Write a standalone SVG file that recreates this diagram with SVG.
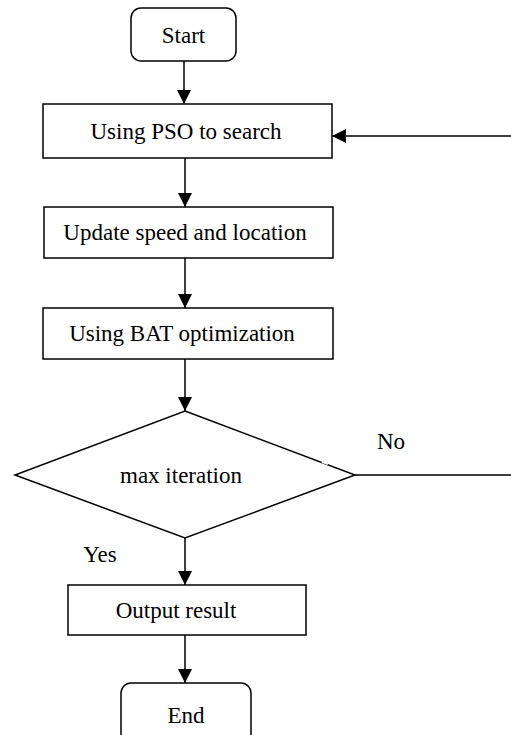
<svg xmlns="http://www.w3.org/2000/svg" width="511" height="735" viewBox="0 0 511 735">
<defs>
<marker id="ah" markerWidth="14" markerHeight="14" refX="14" refY="7" orient="auto" markerUnits="userSpaceOnUse">
<path d="M0,0 L14,7 L0,14 Z" fill="#000"/>
</marker>
<style>
.b{fill:#fff;stroke:#000;stroke-width:1.5}
.t{font-family:'Liberation Serif','DejaVu Serif',serif;font-size:23px;fill:#000;text-anchor:middle}
.c{fill:none;stroke:#000;stroke-width:1.5}
</style>
</defs>
<rect width="511" height="735" fill="#fff"/>
<g id="start"><rect class="b" x="131" y="8" width="105" height="53" rx="10"/><text class="t" x="183.5" y="43">Start</text></g>
<g id="pso"><rect class="b" x="43" y="104" width="289" height="54"/><text class="t" x="186" y="139">Using PSO to search</text></g>
<g id="update"><rect class="b" x="44" y="207" width="289" height="51"/><text class="t" x="185" y="240">Update speed and location</text></g>
<g id="bat"><rect class="b" x="43" y="308" width="290" height="51"/><text class="t" x="182" y="341">Using BAT optimization</text></g>
<g id="decision"><polygon class="b" points="185,411 355,475 185,538 15,475"/><line x1="322" y1="461.5" x2="328" y2="463.8" stroke="#fff" stroke-width="2.5"/><text class="t" x="181" y="483">max iteration</text></g>
<g id="output"><rect class="b" x="68" y="585" width="238" height="50"/><text class="t" x="176" y="618">Output result</text></g>
<g id="end"><rect class="b" x="121" y="683" width="130" height="62" rx="10"/><text class="t" x="186" y="723">End</text></g>
<g id="connectors">
<line class="c" x1="184" y1="61" x2="184" y2="104" marker-end="url(#ah)"/>
<line class="c" x1="185" y1="158" x2="185" y2="207" marker-end="url(#ah)"/>
<line class="c" x1="185" y1="258" x2="185" y2="308" marker-end="url(#ah)"/>
<line class="c" x1="185" y1="359" x2="185" y2="411" marker-end="url(#ah)"/>
<line class="c" x1="185" y1="538" x2="185" y2="585" marker-end="url(#ah)"/>
<line class="c" x1="185" y1="635" x2="185" y2="683" marker-end="url(#ah)"/>
<polyline class="c" points="355,475 513,475 513,136"/>
<line class="c" x1="513" y1="136" x2="332" y2="136" marker-end="url(#ah)"/>
<text class="t" x="391" y="449">No</text>
<text class="t" x="100" y="562">Yes</text>
</g>
</svg>
